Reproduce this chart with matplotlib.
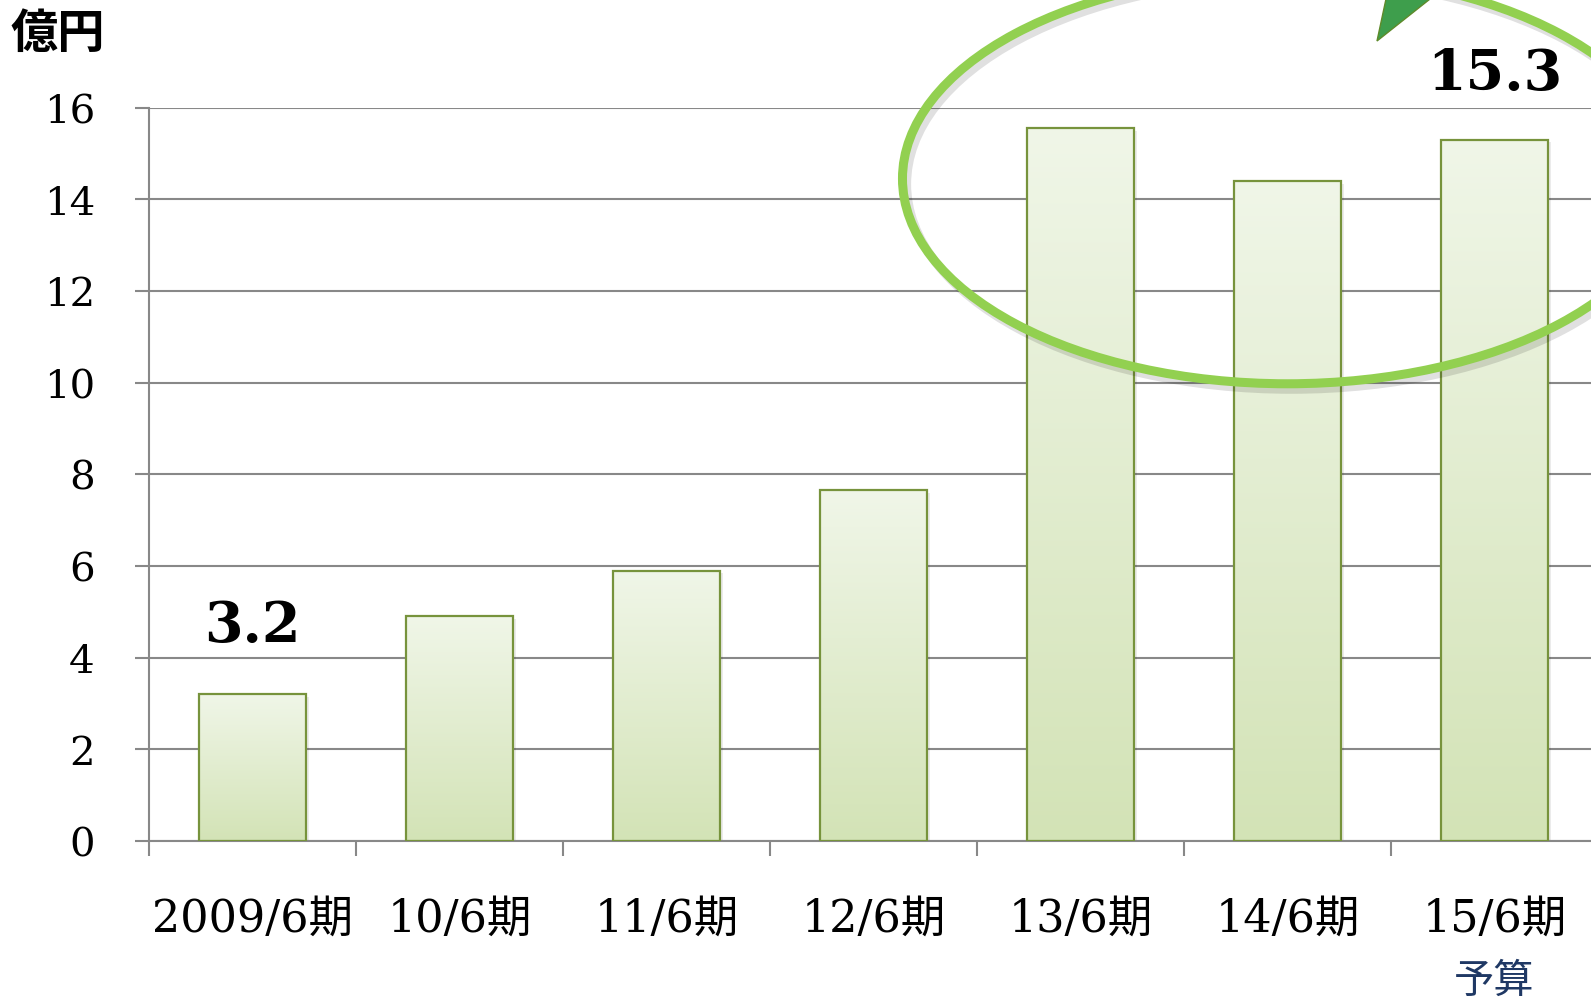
import numpy as np
import matplotlib
matplotlib.use("Agg")
import matplotlib.pyplot as plt
from matplotlib.patches import Ellipse, Polygon
from matplotlib.colors import LinearSegmentedColormap

# data
periods = ["2009/6期", "10/6期", "11/6期", "12/6期", "13/6期", "14/6期", "15/6期"]
sales = [3.2, 4.9, 5.9, 7.65, 15.55, 14.4, 15.3]
labelled = {0: "3.2", 6: "15.3"}

serif_cjk = ["DejaVu Serif", "Noto Sans CJK JP"]
grid_col = "#888888"
edge_col = "#77933C"

fig = plt.figure(figsize=(15.91, 10.04), dpi=100)
ax = fig.add_axes([149 / 1591, 162 / 1004, 1449 / 1591, 733.4 / 1004])

x = np.arange(len(periods))
bars = ax.bar(x, sales, width=0.52, facecolor="none", edgecolor=edge_col,
              linewidth=1.6, zorder=3)

# vertical gradient fill in each bar
grad_cmap = LinearSegmentedColormap.from_list("g", ["#D3E3B6", "#F0F6E8"])
grad = np.linspace(0, 1, 256).reshape(-1, 1)
for b in bars:
    bx, by = b.get_x(), b.get_y()
    w, h = b.get_width(), b.get_height()
    im = ax.imshow(grad, cmap=grad_cmap, origin="lower", aspect="auto",
                   extent=[bx, bx + w, by, by + h], zorder=2)
    im.set_clip_path(b)
    # soft shadow
    ax.bar(bx + w / 2 + 0.012, h, width=w, bottom=by - 0.06, color="#000000",
           alpha=0.08, linewidth=0, zorder=1.5)

ax.set_xlim(-0.5, len(periods) - 0.5)
ax.set_ylim(0, 16)
ax.set_yticks(np.arange(0, 17, 2))
ax.yaxis.grid(True, color=grid_col, linewidth=1.5, zorder=0)
ax.set_axisbelow(True)

for s in ["top", "right"]:
    ax.spines[s].set_visible(False)
for s in ["left", "bottom"]:
    ax.spines[s].set_color(grid_col)
    ax.spines[s].set_linewidth(1.5)

ax.tick_params(axis="y", length=10, width=1.5, color=grid_col, pad=29,
               labelsize=29)
for t in ax.get_yticklabels():
    t.set_fontfamily("DejaVu Serif")

ax.set_xticks(x)
ax.set_xticklabels(periods, fontsize=32, family=serif_cjk)
ax.set_xticks(np.arange(-0.5, len(periods)), minor=True)
ax.tick_params(axis="x", which="major", length=0, pad=40)
ax.tick_params(axis="x", which="minor", length=11, width=1.5, color=grid_col)

# value callouts
for i, txt in labelled.items():
    ax.text(x[i], sales[i] + 1.5, txt, ha="center", va="center",
            fontsize=40, fontweight="bold", family="DejaVu Serif")
ax.texts[-1].set_y(16.75)

ax.text(x[-1], -3.05, "予算", ha="center", va="center", fontsize=29,
        color="#1F3864", family="Noto Sans CJK JP")

fig.text(58 / 1591, 1 - 34 / 1004, "億円", ha="center", va="center",
         fontsize=34, fontweight="bold", family="Noto Sans CJK JP")

# highlight ellipse around the last three periods
for off, col, a in [((0.02, -0.12), "#000000", 0.12), ((0, 0), "#92D050", 1.0)]:
    e = Ellipse((5.0 + off[0], 14.45 + off[1]), 3.72, 8.95, fill=False,
                edgecolor=col, linewidth=6.5, alpha=a, zorder=5, clip_on=False)
    ax.add_patch(e)

# tip of the arrow in the upper corner
tip = Polygon([[1377, 1004 - 42], [1386, 1004], [1430, 1004]], closed=True,
              transform=None, facecolor="#3E9E4C", edgecolor="#5E8A2A",
              linewidth=1, zorder=6)
fig.patches.append(tip)

fig.savefig("out.png", dpi=100)
